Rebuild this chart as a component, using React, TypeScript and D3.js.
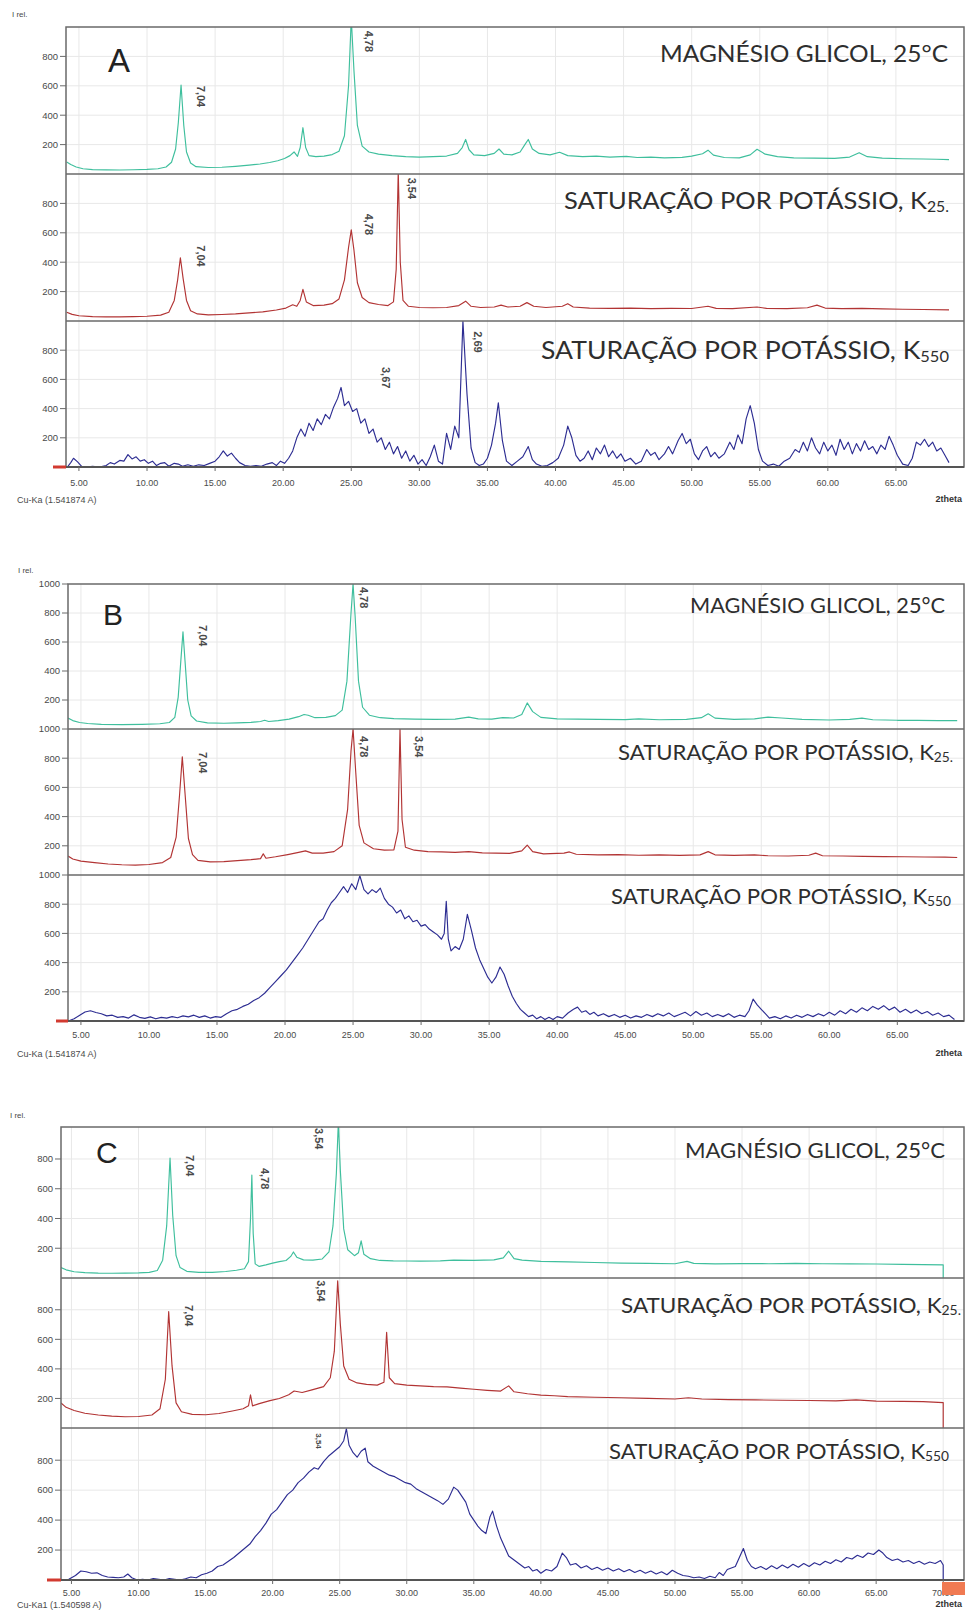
import React from "react";
import * as d3 from "d3";

type Pt = [number, number];

// ---------- diffractogram A ----------
const A_MG: Pt[] = [[4.1,82],[4.4,65],[4.8,48],[5.3,36],[6,30],[7,28],[8,27],[9,29],[10,31],[10.8,36],[11.4,48],[11.8,80],[12.1,170],[12.3,350],[12.5,605],[12.7,330],[12.9,150],[13.2,75],[13.6,50],[14.5,44],[15.5,46],[16.5,52],[17.5,60],[18.3,68],[19,78],[19.6,90],[20.1,105],[20.5,125],[20.8,150],[21.05,120],[21.25,180],[21.45,315],[21.65,180],[21.9,125],[22.4,118],[23,122],[23.6,132],[24.1,155],[24.5,260],[24.8,600],[25.0,1060],[25.2,700],[25.45,330],[25.8,190],[26.3,150],[27,135],[28,125],[29,118],[30,115],[31,118],[32,122],[32.8,140],[33.15,180],[33.4,235],[33.65,165],[34,130],[34.8,125],[35.5,140],[35.85,170],[36.2,135],[36.8,130],[37.4,150],[37.75,200],[38.0,235],[38.3,170],[38.8,140],[39.6,130],[40.3,148],[40.9,125],[42,118],[43,122],[44,115],[45.2,120],[46,112],[47,115],[48,110],[49.3,113],[50,122],[50.8,138],[51.2,162],[51.6,128],[52.4,112],[53.5,110],[54.3,130],[54.8,168],[55.4,135],[56.3,118],[57.5,110],[59,108],[60.5,106],[61.6,115],[62.3,145],[62.9,118],[64,108],[65.5,104],[67,102],[68,100],[68.9,98]];

const A_K25: Pt[] = [[4.1,60],[4.5,45],[5,36],[6,30],[7,28],[8,28],[9,30],[10,32],[11,40],[11.6,60],[12,140],[12.25,280],[12.45,430],[12.65,290],[12.9,140],[13.2,70],[13.7,48],[14.5,42],[15.5,44],[16.5,48],[17.5,55],[18.5,62],[19.5,75],[20.2,88],[20.7,110],[21.0,100],[21.25,140],[21.45,215],[21.7,130],[22.2,105],[23,108],[23.6,118],[24.1,150],[24.5,280],[24.8,500],[25.0,620],[25.2,480],[25.45,260],[25.8,160],[26.3,125],[27,112],[27.7,105],[28.1,130],[28.3,350],[28.45,1020],[28.6,400],[28.8,140],[29.2,100],[30,92],[31,90],[32,92],[32.9,105],[33.4,135],[33.8,100],[34.5,92],[35.5,95],[36,108],[36.5,95],[37.4,100],[37.9,125],[38.4,100],[39.3,92],[40.5,100],[40.9,118],[41.3,95],[42.5,88],[44,86],[45.5,88],[47,84],[48.5,86],[50,85],[51.2,100],[51.8,86],[53,84],[54.8,95],[55.5,86],[57,84],[58.5,90],[59.2,108],[59.8,88],[61,84],[62.5,86],[64,82],[65.5,80],[67,78],[68.9,76]];

const A_K550: Pt[] = [[4.15,0],[4.4,30],[4.6,60],[4.9,35],[5.2,5],[5.6,0],[6,5],[6.5,0],[7,10],[7.3,30],[7.6,20],[8,45],[8.3,40],[8.6,85],[8.9,55],[9.2,70],[9.5,40],[9.8,50],[10.1,25],[10.4,40],[10.7,10],[11,25],[11.3,30],[11.6,5],[12,25],[12.3,20],[12.6,5],[13,15],[13.4,5],[13.8,15],[14.2,10],[14.6,25],[15,40],[15.3,70],[15.6,110],[15.9,75],[16.2,95],[16.5,60],[16.8,30],[17.2,10],[17.6,5],[18,10],[18.4,5],[18.8,20],[19.2,30],[19.5,10],[19.8,40],[20.1,25],[20.4,60],[20.7,110],[21,200],[21.3,260],[21.6,210],[21.9,300],[22.2,250],[22.5,330],[22.8,290],[23.1,360],[23.4,330],[23.7,410],[24,470],[24.25,545],[24.5,420],[24.8,450],[25.1,380],[25.4,400],[25.7,300],[26,330],[26.3,230],[26.6,260],[26.9,170],[27.2,200],[27.5,120],[27.8,170],[28.1,90],[28.4,140],[28.7,60],[29,110],[29.3,40],[29.6,80],[29.9,20],[30.2,50],[30.5,10],[30.8,70],[31.1,150],[31.4,40],[31.7,20],[32,230],[32.3,120],[32.6,280],[32.9,200],[33.2,1000],[33.5,500],[33.8,130],[34.1,30],[34.4,10],[34.7,20],[35,60],[35.3,150],[35.6,300],[35.8,440],[36.1,180],[36.4,40],[36.8,10],[37.2,40],[37.6,70],[38,140],[38.3,50],[38.6,20],[39,5],[39.4,10],[39.8,30],[40.2,60],[40.6,150],[40.9,280],[41.2,200],[41.5,80],[41.8,40],[42.1,60],[42.4,110],[42.7,50],[43,130],[43.3,90],[43.6,150],[43.9,70],[44.2,110],[44.5,60],[44.8,90],[45.1,40],[45.5,60],[45.9,20],[46.3,40],[46.7,120],[47,80],[47.3,100],[47.6,50],[48,90],[48.3,140],[48.6,90],[49,180],[49.3,230],[49.6,160],[49.9,190],[50.2,90],[50.5,50],[50.8,110],[51.1,140],[51.4,70],[51.7,100],[52,60],[52.4,90],[52.8,170],[53.1,120],[53.4,220],[53.7,160],[54,330],[54.3,420],[54.6,300],[54.9,120],[55.2,40],[55.6,10],[56,20],[56.4,5],[56.8,40],[57.2,60],[57.6,120],[57.9,100],[58.2,170],[58.5,110],[58.8,200],[59.1,130],[59.4,90],[59.7,170],[60,110],[60.3,150],[60.6,80],[60.9,190],[61.2,120],[61.5,170],[61.8,90],[62.1,160],[62.4,110],[62.7,180],[63,120],[63.3,140],[63.6,90],[63.9,150],[64.2,120],[64.5,210],[64.8,150],[65.1,80],[65.5,20],[65.9,10],[66.2,60],[66.5,170],[66.8,150],[67.1,190],[67.4,140],[67.7,170],[68,110],[68.3,130],[68.6,80],[68.9,30]];

// ---------- diffractogram B ----------
const B_MG: Pt[] = [[4.05,75],[4.4,58],[4.9,45],[5.5,38],[6.5,32],[8,30],[9.5,32],[10.8,36],[11.5,45],[11.9,80],[12.15,220],[12.35,480],[12.5,670],[12.65,470],[12.85,200],[13.1,90],[13.5,55],[14.3,42],[15.5,40],[16.5,42],[17.5,46],[18.2,52],[18.5,60],[18.8,52],[19.5,58],[20.3,68],[21,85],[21.4,100],[21.7,95],[22.2,78],[23,80],[23.7,92],[24.2,130],[24.55,330],[24.85,800],[25.0,1000],[25.15,780],[25.4,330],[25.7,150],[26.2,95],[27,78],[28,72],[29.5,68],[31,66],[32.5,68],[33.5,82],[34.2,70],[35.2,68],[36,78],[36.8,76],[37.4,100],[37.8,180],[38.2,120],[38.8,80],[40,70],[41.5,68],[43,66],[45,65],[46,70],[47.5,64],[49.5,66],[50.6,78],[51.1,105],[51.6,75],[53,66],[54.5,70],[55.5,82],[56.5,76],[58,66],[60,62],[61.5,66],[62.4,75],[63.2,64],[65,60],[66.5,60],[68,58],[69.4,58]];

const B_K25: Pt[] = [[4.05,130],[4.4,110],[5,95],[6,85],[7,75],[8,70],[9,68],[10,72],[11,85],[11.6,120],[12,260],[12.25,550],[12.45,810],[12.65,560],[12.9,250],[13.2,140],[13.6,100],[14.5,90],[15.5,92],[16.5,98],[17.5,105],[18.2,112],[18.4,145],[18.6,115],[19.3,125],[20.2,140],[21,155],[21.5,165],[22,150],[22.8,150],[23.6,160],[24.2,200],[24.6,450],[24.85,850],[25.0,1000],[25.2,700],[25.45,340],[25.8,220],[26.5,180],[27.3,170],[28,172],[28.3,300],[28.45,1000],[28.6,380],[28.85,190],[29.5,170],[30.5,160],[31.5,158],[32.5,155],[33.5,160],[34.5,152],[35.5,150],[36.5,148],[37.4,165],[37.8,205],[38.2,160],[39,145],[40.5,150],[40.9,158],[41.4,142],[43,138],[44.5,140],[46,135],[47.5,138],[49,134],[50.5,138],[51.1,160],[51.6,138],[53,134],[54.5,138],[55.5,132],[57,130],[58.5,135],[59,150],[59.5,132],[61,130],[62.5,128],[64,126],[65.5,125],[67,123],[68.5,122],[69.4,120]];

const B_K550: Pt[] = [[4.05,0],[4.5,15],[5,45],[5.3,62],[5.7,70],[6.1,58],[6.5,50],[6.9,35],[7.3,40],[7.7,25],[8.1,30],[8.5,20],[8.9,42],[9.3,25],[9.7,18],[10.1,28],[10.5,15],[10.9,25],[11.3,20],[11.7,30],[12.1,22],[12.5,35],[12.9,28],[13.3,40],[13.7,25],[14.1,35],[14.5,20],[14.9,30],[15.3,25],[15.7,50],[16.1,70],[16.5,80],[16.9,100],[17.3,115],[17.7,140],[18.1,160],[18.5,190],[18.9,230],[19.3,270],[19.7,310],[20.1,350],[20.5,400],[20.9,450],[21.3,500],[21.7,560],[22.1,620],[22.5,680],[22.8,700],[23.1,760],[23.4,810],[23.7,840],[24,880],[24.3,920],[24.6,880],[24.9,940],[25.2,900],[25.5,995],[25.8,900],[26.1,870],[26.4,900],[26.7,880],[27,910],[27.3,840],[27.6,800],[27.9,780],[28.2,740],[28.5,760],[28.8,700],[29.1,720],[29.4,680],[29.7,690],[30,650],[30.3,660],[30.6,630],[30.9,610],[31.2,590],[31.5,560],[31.7,600],[31.85,820],[32.0,560],[32.2,480],[32.5,510],[32.8,490],[33.1,560],[33.4,730],[33.7,620],[34,500],[34.3,420],[34.6,360],[34.9,300],[35.2,260],[35.5,300],[35.8,370],[36.1,320],[36.4,240],[36.7,170],[37,120],[37.3,80],[37.6,55],[37.9,30],[38.2,40],[38.5,15],[38.8,30],[39.1,10],[39.4,25],[39.7,10],[40,30],[40.4,20],[40.8,55],[41.2,80],[41.5,95],[41.8,60],[42.1,70],[42.4,45],[42.7,60],[43,35],[43.4,50],[43.8,30],[44.2,45],[44.6,25],[45,40],[45.4,20],[45.8,35],[46.2,25],[46.6,45],[47,30],[47.4,50],[47.8,35],[48.2,55],[48.6,30],[49,45],[49.4,60],[49.8,35],[50.2,65],[50.6,40],[51,55],[51.4,30],[51.8,45],[52.2,30],[52.6,50],[53,25],[53.4,40],[53.8,30],[54.1,70],[54.4,150],[54.7,110],[55,80],[55.3,50],[55.6,20],[56,30],[56.4,15],[56.8,35],[57.2,20],[57.6,40],[58,25],[58.4,45],[58.8,30],[59.2,50],[59.6,35],[60,60],[60.4,40],[60.8,70],[61.2,50],[61.6,80],[62,60],[62.4,90],[62.8,70],[63.2,100],[63.6,80],[64,105],[64.4,75],[64.8,95],[65.2,60],[65.6,80],[66,55],[66.4,75],[66.8,50],[67.2,65],[67.6,40],[68,55],[68.4,30],[68.8,40],[69.2,10]];

// ---------- diffractogram C ----------
const C_MG: Pt[] = [[4.22,70],[4.6,55],[5.2,42],[6,36],[7,33],[8,32],[9,33],[10,34],[10.8,38],[11.4,50],[11.8,120],[12.1,350],[12.35,806],[12.55,420],[12.8,150],[13.1,70],[13.6,45],[14.5,38],[15.5,38],[16.5,44],[17.3,52],[17.9,62],[18.2,110],[18.35,400],[18.45,692],[18.55,300],[18.7,95],[19,78],[19.5,88],[20,100],[20.5,110],[21,118],[21.35,145],[21.55,175],[21.8,140],[22.3,122],[23,120],[23.7,128],[24.2,175],[24.5,350],[24.75,700],[24.9,1050],[25.05,720],[25.3,330],[25.6,190],[26.1,150],[26.4,170],[26.6,250],[26.8,160],[27.3,130],[28,118],[29,115],[30,114],[31,113],[32.5,115],[33.5,120],[35,118],[36.5,122],[37.2,135],[37.6,180],[38,130],[38.6,120],[40,112],[42,108],[44,104],[46,100],[48,98],[50,96],[50.9,112],[51.4,98],[53,95],[55,97],[57,96],[59,98],[61,96],[63,95],[65,94],[67,92],[68.5,90],[70,88],[70,0]];

const C_K25: Pt[] = [[4.22,170],[4.6,140],[5.2,118],[6,100],[7,88],[8,80],[9,76],[10,78],[11,88],[11.6,130],[12,330],[12.25,787],[12.5,420],[12.8,170],[13.2,110],[14,92],[15,90],[16,98],[17,115],[17.8,130],[18.2,150],[18.35,225],[18.5,150],[19,165],[19.8,185],[20.5,200],[21.2,225],[21.6,250],[22.2,240],[23,260],[23.8,280],[24.3,340],[24.6,520],[24.85,996],[25.05,700],[25.3,420],[25.7,330],[26.3,305],[27,295],[27.8,290],[28.3,310],[28.5,648],[28.7,340],[29.1,300],[30,290],[31,285],[32,280],[33,278],[34,270],[35,262],[36,255],[37,250],[37.6,285],[38,245],[39,232],[40,222],[41,218],[42,212],[44,208],[46,205],[48,200],[50,196],[51,205],[52,196],[54,192],[56,190],[58,188],[60,186],[62,184],[63.5,190],[65,182],[67,180],[68.5,178],[70,172],[70,0]];

const C_K550: Pt[] = [[4.22,0],[4.8,5],[5.3,30],[5.7,60],[6.1,55],[6.5,45],[6.9,48],[7.3,30],[7.7,20],[8.1,18],[8.5,15],[8.9,20],[9.2,40],[9.5,15],[9.9,0],[10.3,5],[10.7,0],[11.1,10],[11.5,5],[11.9,0],[12.3,10],[12.7,5],[13.1,0],[13.5,8],[13.9,20],[14.3,15],[14.7,35],[15.1,45],[15.5,60],[15.9,90],[16.3,100],[16.7,125],[17.1,150],[17.5,180],[17.9,210],[18.3,240],[18.7,290],[19.1,330],[19.5,380],[19.9,440],[20.3,470],[20.7,520],[21.1,570],[21.5,600],[21.9,650],[22.3,680],[22.7,720],[23.1,750],[23.4,740],[23.8,790],[24.2,830],[24.6,860],[25,890],[25.3,930],[25.5,1010],[25.7,900],[26,850],[26.3,820],[26.6,860],[26.9,880],[27.1,790],[27.5,760],[27.9,740],[28.3,720],[28.7,700],[29.1,690],[29.5,670],[29.9,650],[30.3,640],[30.7,610],[31.1,590],[31.5,570],[31.9,550],[32.3,530],[32.7,505],[33.1,540],[33.5,620],[33.8,600],[34.1,560],[34.4,520],[34.7,440],[35,400],[35.3,360],[35.6,330],[35.9,310],[36.2,420],[36.4,460],[36.7,360],[37,280],[37.3,220],[37.6,160],[37.9,140],[38.2,120],[38.5,100],[38.8,80],[39.1,90],[39.4,60],[39.7,70],[40,45],[40.4,70],[40.8,60],[41.2,90],[41.6,180],[41.9,150],[42.2,100],[42.6,110],[43,80],[43.4,95],[43.8,70],[44.2,85],[44.6,65],[45,80],[45.4,60],[45.8,75],[46.2,55],[46.6,70],[47,50],[47.4,65],[47.8,45],[48.2,60],[48.6,40],[49,55],[49.4,35],[49.8,65],[50.2,45],[50.6,30],[51,25],[51.4,15],[51.8,20],[52.2,10],[52.6,25],[53,15],[53.3,50],[53.6,30],[53.9,70],[54.2,80],[54.5,90],[54.8,150],[55.1,210],[55.4,130],[55.7,90],[56,75],[56.4,90],[56.8,70],[57.2,95],[57.6,75],[58,100],[58.4,80],[58.8,105],[59.2,85],[59.6,110],[60,90],[60.4,115],[60.8,100],[61.2,125],[61.6,110],[62,135],[62.4,120],[62.8,150],[63.2,140],[63.6,165],[64,150],[64.4,180],[64.8,170],[65.2,200],[65.5,180],[65.8,150],[66.2,130],[66.6,140],[67,120],[67.4,130],[67.8,110],[68.2,125],[68.6,105],[69,120],[69.4,110],[69.8,130],[70,100],[70,0]];

// ---------- labels ----------
const TREATMENTS = ["MAGNÉSIO GLICOL, 25°C", "SATURAÇÃO POR POTÁSSIO, K", "SATURAÇÃO POR POTÁSSIO, K"];
const TREATMENT_SUBS = ["", "25.", "550"];
const X_TICKS = [5, 10, 15, 20, 25, 30, 35, 40, 45, 50, 55, 60, 65, 70];
const Y_TICKS_AC = [200, 400, 600, 800];
const Y_TICKS_B = [200, 400, 600, 800, 1000];

type PeakLabel = { text: string; at: Pt };
// d-spacing annotations: [2θ of label centre, intensity at top of label]
const PEAKS_A: PeakLabel[][] = [
  [{ text: "7,04", at: [13.95, 600] }, { text: "4,78", at: [26.3, 975] }],
  [{ text: "7,04", at: [14.0, 515] }, { text: "4,78", at: [26.3, 730] }, { text: "3,54", at: [29.45, 975] }],
  [{ text: "3,67", at: [27.55, 685] }, { text: "2,69", at: [34.3, 930] }],
];
const PEAKS_B: PeakLabel[][] = [
  [{ text: "7,04", at: [13.97, 717] }, { text: "4,78", at: [25.8, 980] }],
  [{ text: "7,04", at: [13.97, 842] }, { text: "4,78", at: [25.8, 952] }, { text: "3,54", at: [29.85, 952] }],
  [],
];
const PEAKS_C: PeakLabel[][] = [
  [{ text: "7,04", at: [13.85, 827] }, { text: "4,78", at: [19.43, 740] }, { text: "3,54", at: [23.45, 1008] }],
  [{ text: "7,04", at: [13.76, 832] }, { text: "3,54", at: [23.6, 1000] }],
  [{ text: "3,54", at: [23.4, 980] }],
];

const TRACE_COLORS = ["#3fbf9d", "#b23434", "#2d2d92"];

type Title = { x0: number; x1: number; cy: number; size: number };
type Fig = {
  key: string;
  left: number;
  right: number;
  bounds: number[];
  xDomain: [number, number];
  yMax: number;
  yTicks: number[];
  xTickMax: number;
  traces: Pt[][];
  peaks: PeakLabel[][];
  probe: string;
  rel: { x: number; y: number };
  letter: { x: number; y: number; size: number };
  titles: Title[];
  tickDy: number;
  probeDy: number;
  marker: [number, number];
  peakSize: number[];
};

const FIGS: Fig[] = [
  {
    key: "A", left: 66, right: 964, bounds: [27, 174, 321, 467], xDomain: [4.05, 70.0], yMax: 1000,
    yTicks: Y_TICKS_AC, xTickMax: 65, traces: [A_MG, A_K25, A_K550], peaks: PEAKS_A,
    probe: "Cu-Ka (1.541874 A)", rel: { x: 12, y: 17 }, letter: { x: 108, y: 72, size: 33 },
    titles: [
      { x0: 660, x1: 948, cy: 53, size: 24 },
      { x0: 564, x1: 949, cy: 200, size: 24 },
      { x0: 541, x1: 949, cy: 350, size: 25 },
    ],
    tickDy: 19, probeDy: 36, marker: [53, 66], peakSize: [11, 11, 11],
  },
  {
    key: "B", left: 68, right: 964, bounds: [584, 729, 875, 1021], xDomain: [4.05, 69.9], yMax: 1000,
    yTicks: Y_TICKS_B, xTickMax: 65, traces: [B_MG, B_K25, B_K550], peaks: PEAKS_B,
    probe: "Cu-Ka (1.541874 A)", rel: { x: 18, y: 573 }, letter: { x: 103, y: 625, size: 30 },
    titles: [
      { x0: 690, x1: 945, cy: 605, size: 21 },
      { x0: 618, x1: 953, cy: 752, size: 21 },
      { x0: 611, x1: 951, cy: 896, size: 21 },
    ],
    tickDy: 17, probeDy: 36, marker: [56, 68], peakSize: [11, 11, 11],
  },
  {
    key: "C", left: 61, right: 964, bounds: [1127, 1278, 1428, 1580], xDomain: [4.22, 71.55], yMax: 1015,
    yTicks: Y_TICKS_AC, xTickMax: 70, traces: [C_MG, C_K25, C_K550], peaks: PEAKS_C,
    probe: "Cu-Ka1 (1.540598 A)", rel: { x: 10, y: 1118 }, letter: { x: 96, y: 1163, size: 30 },
    titles: [
      { x0: 685, x1: 945, cy: 1150, size: 21 },
      { x0: 621, x1: 961, cy: 1305, size: 21 },
      { x0: 609, x1: 949, cy: 1451, size: 21 },
    ],
    tickDy: 16, probeDy: 28, marker: [47, 61], peakSize: [11, 11, 8],
  },
];

const FRAME = "#6a6a6a";
const GRID = "#e8e8e8";
const AXIS_TEXT = "#4a4a4a";
const SANS = "'Liberation Sans', Arial, sans-serif";
const TITLE_FONT = "Lato, 'Open Sans', sans-serif";
const fmt = d3.format(".2f");

function Figure({ fig }: { fig: Fig }) {
  const x = d3.scaleLinear().domain(fig.xDomain).range([fig.left, fig.right]);
  const xt = X_TICKS.filter((t) => t >= fig.xDomain[0] && t <= fig.xTickMax);
  const bottom = fig.bounds[3];
  return (
    <g>
      {fig.traces.map((trace, i) => {
        const top = fig.bounds[i];
        const bot = fig.bounds[i + 1];
        const y = d3.scaleLinear().domain([0, fig.yMax]).range([bot, top]);
        const line = d3.line<Pt>().x((d) => x(d[0])).y((d) => y(d[1]));
        const clipId = `clip-${fig.key}-${i}`;
        const title = fig.titles[i];
        return (
          <g key={i}>
            <clipPath id={clipId}>
              <rect x={fig.left} y={top} width={fig.right - fig.left} height={bot - top} />
            </clipPath>
            {xt.map((t) => (
              <line key={"vx" + t} x1={x(t)} x2={x(t)} y1={top} y2={bot} stroke={GRID} strokeWidth={1} />
            ))}
            {fig.yTicks.filter((v) => v < fig.yMax).map((v) => (
              <line key={"hy" + v} x1={fig.left} x2={fig.right} y1={y(v)} y2={y(v)} stroke={GRID} strokeWidth={1} />
            ))}
            <path d={line(trace) ?? ""} fill="none" stroke={TRACE_COLORS[i]} strokeWidth={1.15}
              strokeLinejoin="round" clipPath={`url(#${clipId})`} />
            {fig.yTicks.map((v) => (
              <g key={"yt" + v}>
                <line x1={fig.left - 6} x2={fig.left} y1={y(v)} y2={y(v)} stroke={FRAME} strokeWidth={1} />
                <text x={fig.left - 8} y={y(v)} dy="0.35em" textAnchor="end" fontSize={9.5}
                  fontFamily={SANS} fill={AXIS_TEXT}>{v}</text>
              </g>
            ))}
            {fig.peaks[i].map((p, j) => (
              <text key={"pk" + j} transform={`translate(${x(p.at[0])},${y(p.at[1])}) rotate(90)`}
                dominantBaseline="central" fontSize={fig.peakSize[i]} fontFamily={SANS}
                fontWeight={600} fill="#4a4a4a">{p.text}</text>
            ))}
            <text x={title.x0} y={title.cy} dy="0.36em" fontSize={title.size} fontFamily={TITLE_FONT}
              fill="#2e2e2e" textLength={title.x1 - title.x0} lengthAdjust="spacingAndGlyphs">
              {TREATMENTS[i]}
              {TREATMENT_SUBS[i] && (
                <tspan fontSize={title.size * 0.62} dy="0.22em">{TREATMENT_SUBS[i]}</tspan>
              )}
            </text>
          </g>
        );
      })}
      {/* outer frame and panel separators */}
      <rect x={fig.left} y={fig.bounds[0]} width={fig.right - fig.left} height={bottom - fig.bounds[0]}
        fill="none" stroke={FRAME} strokeWidth={1.5} />
      {fig.bounds.slice(1, 3).map((b, i) => (
        <line key={"sep" + i} x1={fig.left} x2={fig.right} y1={b} y2={b} stroke={FRAME} strokeWidth={1.5} />
      ))}
      <line x1={fig.left} x2={fig.right} y1={bottom} y2={bottom} stroke="#555" strokeWidth={2} />
      <line x1={fig.marker[0]} x2={fig.marker[1]} y1={bottom} y2={bottom} stroke="#d23a30" strokeWidth={3} />
      {xt.map((t) => (
        <g key={"xt" + t}>
          <line x1={x(t)} x2={x(t)} y1={bottom} y2={bottom + 4} stroke={FRAME} strokeWidth={1} />
          <text x={x(t)} y={bottom + fig.tickDy} textAnchor="middle" fontSize={9} fontFamily={SANS}
            fill={AXIS_TEXT}>{fmt(t)}</text>
        </g>
      ))}
      <text x={fig.rel.x} y={fig.rel.y} fontSize={8} fontFamily={SANS} fill={AXIS_TEXT}>I rel.</text>
      <text x={17} y={bottom + fig.probeDy} fontSize={9} fontFamily={SANS} fill={AXIS_TEXT}>{fig.probe}</text>
      <text x={962} y={bottom + fig.probeDy - 1} textAnchor="end" fontSize={9} fontFamily={SANS}
        fontWeight={600} fill="#333">2theta</text>
      <text x={fig.letter.x} y={fig.letter.y} fontSize={fig.letter.size} fontFamily={SANS} fill="#222">{fig.key}</text>
    </g>
  );
}

export default function App() {
  return (
    <svg width={969} height={1621} viewBox="0 0 969 1621"
      style={{ position: "absolute", left: 0, top: 0, background: "#fff", display: "block" }}>
      <rect x={0} y={0} width={969} height={1621} fill="#fff" />
      {FIGS.map((f) => (
        <Figure key={f.key} fig={f} />
      ))}
      {/* scan-range marker at the end of pattern C */}
      <rect x={942} y={1582} width={23} height={13} fill="#f07a52" />
    </svg>
  );
}
